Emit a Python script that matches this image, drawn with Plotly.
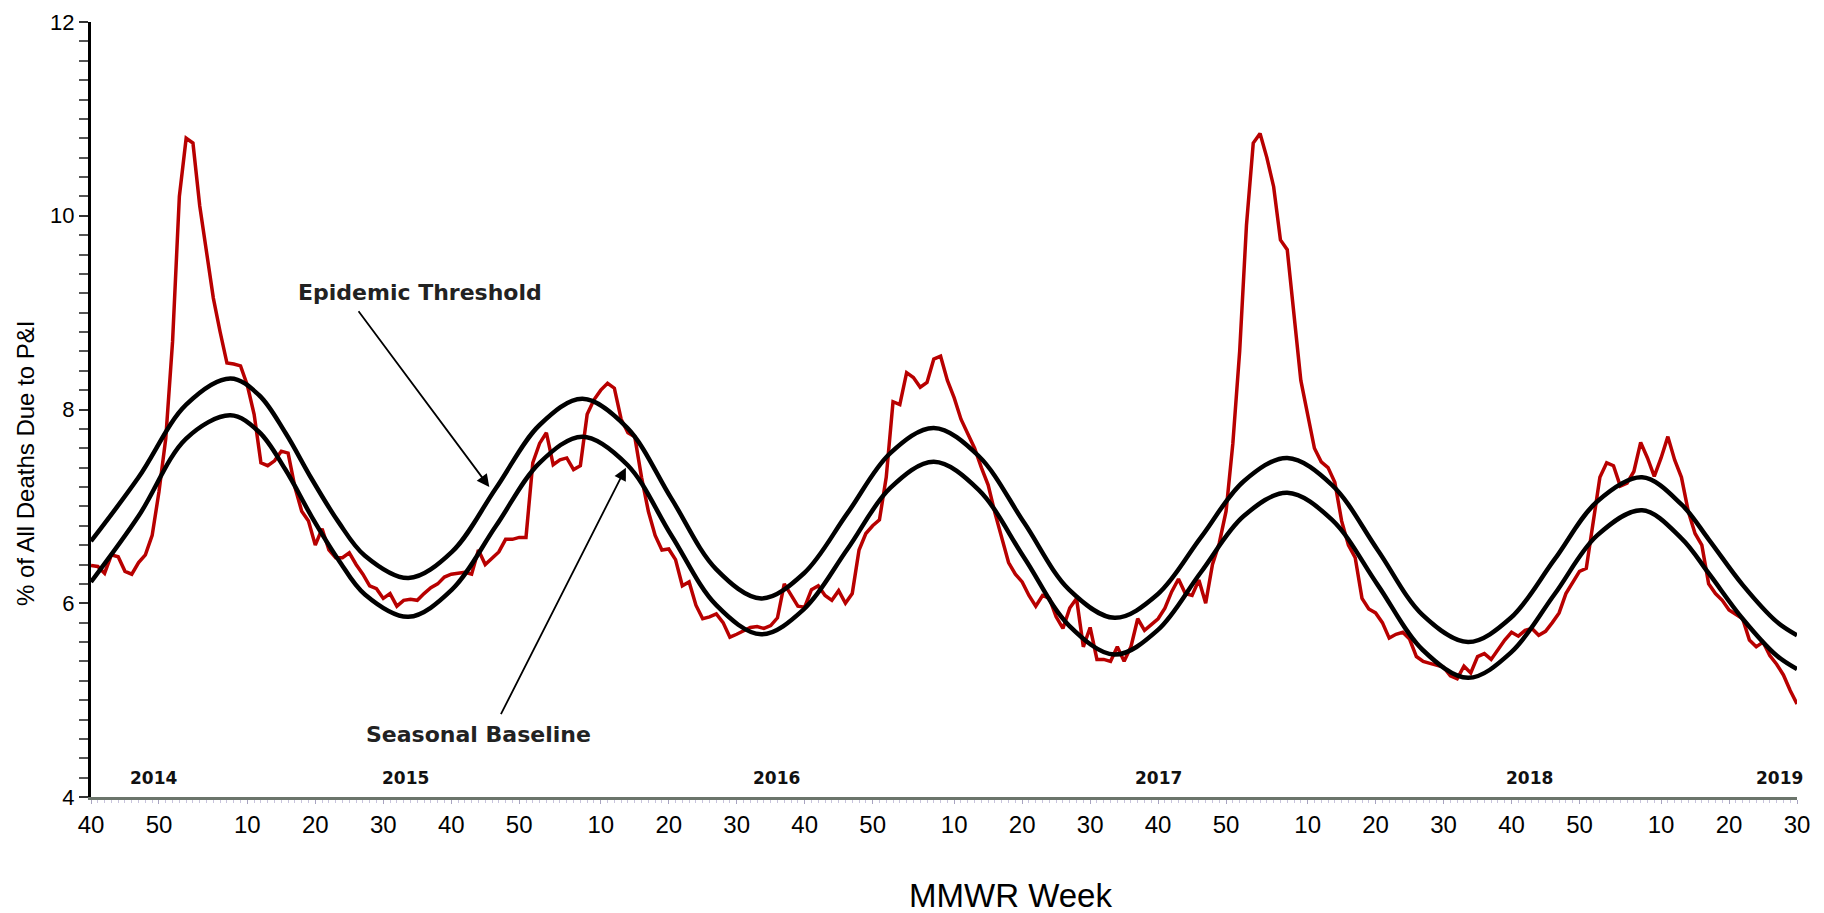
import plotly.graph_objects as go

# ---- data -------------------------------------------------------------
# weekly % of deaths due to P&I, MMWR 2014 week 40 ... 2019 week 30 (252 weeks)
pi_pct = [
    6.39, 6.38, 6.31, 6.50, 6.48, 6.33, 6.30, 6.42, 6.50, 6.70,
    7.15, 7.70, 8.70, 10.20, 10.80, 10.75, 10.10, 9.60, 9.15, 8.80,
    8.48, 8.47, 8.45, 8.25, 7.95, 7.45, 7.42, 7.47, 7.57, 7.55,
    7.20, 6.95, 6.85, 6.60, 6.77, 6.55, 6.47, 6.47, 6.52, 6.40,
    6.30, 6.18, 6.15, 6.05, 6.10, 5.97, 6.03, 6.04, 6.03, 6.10,
    6.16, 6.20, 6.27, 6.30, 6.31, 6.32, 6.30, 6.55, 6.40, 6.47,
    6.53, 6.66, 6.66, 6.68, 6.68, 7.45, 7.65, 7.76, 7.43, 7.48,
    7.50, 7.38, 7.42, 7.95, 8.10, 8.20, 8.27, 8.22, 7.90, 7.76,
    7.72, 7.30, 6.95, 6.70, 6.55, 6.56, 6.45, 6.18, 6.22, 5.98,
    5.84, 5.86, 5.89, 5.80, 5.65, 5.68, 5.72, 5.75, 5.76, 5.74,
    5.77, 5.85, 6.20, 6.08, 5.97, 5.96, 6.14, 6.18, 6.08, 6.03,
    6.13, 6.00, 6.10, 6.55, 6.72, 6.80, 6.86, 7.30, 8.08, 8.05,
    8.38, 8.33, 8.23, 8.28, 8.52, 8.55, 8.30, 8.12, 7.90, 7.75,
    7.60, 7.40, 7.22, 6.93, 6.66, 6.42, 6.30, 6.22, 6.08, 5.97,
    6.08, 6.05, 5.86, 5.74, 5.95, 6.05, 5.55, 5.75, 5.42, 5.42,
    5.40, 5.55, 5.40, 5.55, 5.84, 5.72, 5.78, 5.84, 5.95, 6.12,
    6.25, 6.10, 6.08, 6.24, 6.00, 6.40, 6.62, 6.95, 7.65, 8.60,
    9.90, 10.75, 10.85, 10.60, 10.30, 9.75, 9.65, 9.00, 8.30, 7.95,
    7.60, 7.46, 7.40, 7.25, 6.85, 6.60, 6.47, 6.05, 5.94, 5.90,
    5.80, 5.64, 5.68, 5.70, 5.63, 5.45, 5.40, 5.38, 5.36, 5.34,
    5.25, 5.22, 5.35, 5.28, 5.45, 5.48, 5.42, 5.52, 5.62, 5.70,
    5.66, 5.72, 5.74, 5.67, 5.71, 5.80, 5.90, 6.10, 6.22, 6.33,
    6.36, 6.85, 7.30, 7.45, 7.42, 7.21, 7.24, 7.36, 7.66, 7.50,
    7.31, 7.50, 7.72, 7.48, 7.30, 6.95, 6.72, 6.60, 6.20, 6.10,
    6.03, 5.93, 5.88, 5.84, 5.62, 5.55, 5.60, 5.46, 5.37, 5.26,
    5.10, 4.96,
]

# points (week index from 2014 wk 40)
curve_weeks = [
    0, 7, 14, 20.5, 24.7, 28.6, 32.5, 36.4, 40.3, 46.7,
    53.1, 59.6, 66.0, 72.3, 78.9, 85.4, 92.0, 98.6, 104.9, 111.3,
    117.6, 124.0, 130.6, 137.3, 143.9, 150.6, 156.9, 163.3, 169.6, 176.0,
    182.6, 189.3, 195.9, 202.6, 208.9, 215.3, 221.6, 228.2, 234.0, 238.0,
    243.0, 248.0, 251.0,
]
epidemic_threshold = [
    6.64, 7.30, 8.05, 8.32, 8.15, 7.76, 7.28, 6.84, 6.49, 6.26,
    6.53, 7.19, 7.84, 8.11, 7.81, 7.08, 6.35, 6.05, 6.31, 6.93,
    7.55, 7.81, 7.52, 6.83, 6.14, 5.85, 6.09, 6.68, 7.26, 7.50,
    7.22, 6.55, 5.88, 5.60, 5.85, 6.45, 7.05, 7.30, 7.02, 6.66,
    6.19, 5.81, 5.67,
]
seasonal_baseline = [
    6.22, 6.90, 7.70, 7.94, 7.77, 7.38, 6.89, 6.45, 6.09, 5.86,
    6.14, 6.80, 7.45, 7.72, 7.43, 6.70, 5.98, 5.68, 5.94, 6.56,
    7.19, 7.46, 7.17, 6.47, 5.77, 5.47, 5.72, 6.32, 6.90, 7.14,
    6.86, 6.19, 5.52, 5.23, 5.49, 6.09, 6.70, 6.96, 6.67, 6.31,
    5.84, 5.46, 5.32,
]

# x-axis tick labels (MMWR week) with their season year
tick_years = [2014, 2014,
              2015, 2015, 2015, 2015, 2015,
              2016, 2016, 2016, 2016, 2016,
              2017, 2017, 2017, 2017, 2017,
              2018, 2018, 2018, 2018, 2018,
              2019, 2019, 2019]
tick_weeks = [40, 50,
              10, 20, 30, 40, 50,
              10, 20, 30, 40, 50,
              10, 20, 30, 40, 50,
              10, 20, 30, 40, 50,
              10, 20, 30]
weeks_in_year = {2014: 53, 2015: 52, 2016: 52, 2017: 52, 2018: 52, 2019: 52}

year_labels = ["2014", "2015", "2016", "2017", "2018", "2019"]
year_label_pos = [9.2, 46.2, 100.9, 157.1, 211.6, 248.4]

# ---- helpers ----------------------------------------------------------
year_start = {}
acc = -(40 - 1)
for yr in sorted(weeks_in_year):
    year_start[yr] = acc
    acc += weeks_in_year[yr]
tick_pos = [year_start[y] + w - 1 for y, w in zip(tick_years, tick_weeks)]
tick_text = [str(w) for w in tick_weeks]
weeks = list(range(len(pi_pct)))

fig = go.Figure()
fig.add_trace(go.Scatter(x=weeks, y=pi_pct, mode="lines",
                         line=dict(color="#B80000", width=3.5),
                         hoverinfo="skip", showlegend=False))
fig.add_trace(go.Scatter(x=curve_weeks, y=epidemic_threshold, mode="lines",
                         line=dict(color="black", width=4.5, shape="spline", smoothing=1.0),
                         showlegend=False))
fig.add_trace(go.Scatter(x=curve_weeks, y=seasonal_baseline, mode="lines",
                         line=dict(color="black", width=4.5, shape="spline", smoothing=1.0),
                         showlegend=False))

ann = []
for t, p in zip(year_labels, year_label_pos):
    ann.append(dict(x=p, y=4.2, xref="x", yref="y", text="<b>%s</b>" % t, showarrow=False,
                    font=dict(family="DejaVu Sans", size=17, color="#111")))
# callouts
ann.append(dict(x=48.4, y=9.21, xref="x", yref="y", text="<b>Epidemic Threshold</b>",
                showarrow=False, font=dict(family="DejaVu Sans", size=22, color="#222")))
ann.append(dict(x=57.0, y=4.65, xref="x", yref="y", text="<b>Seasonal Baseline</b>",
                showarrow=False, font=dict(family="DejaVu Sans", size=22, color="#222")))
ann.append(dict(x=58.6, y=7.20, ax=39.2, ay=9.03, xref="x", yref="y",
                axref="x", ayref="y", text="", showarrow=True,
                arrowhead=2, arrowsize=1.4, arrowwidth=1.8, arrowcolor="black"))
ann.append(dict(x=78.7, y=7.40, ax=60.2, ay=4.84, xref="x", yref="y",
                axref="x", ayref="y", text="", showarrow=True,
                arrowhead=2, arrowsize=1.4, arrowwidth=1.8, arrowcolor="black"))
# axis titles
ann.append(dict(x=-0.0381, y=0.4297, xref="paper", yref="paper",
                text="% of All Deaths Due to P&I", textangle=-90, showarrow=False,
                xanchor="center", yanchor="middle",
                font=dict(family="Liberation Sans Narrow, Liberation Sans", size=24, color="black")))
ann.append(dict(x=0.5387, y=-0.127, xref="paper", yref="paper",
                text="MMWR Week", showarrow=False, xanchor="center", yanchor="middle",
                font=dict(family="Liberation Sans", size=33, color="black")))

# page body adds an 8px offset, so margins are shifted by 8px
fig.update_layout(
    width=1824, height=913,
    margin=dict(l=83, r=35, t=14, b=124, autoexpand=False),
    paper_bgcolor="white", plot_bgcolor="white",
    annotations=ann,
    xaxis=dict(range=[0, 251], tickmode="array", tickvals=tick_pos, ticktext=tick_text,
               automargin=False, ticklabeloverflow="allow",
               showgrid=False, zeroline=False, showline=True, linecolor="#6b756b",
               linewidth=3, ticks="outside", ticklen=4, tickcolor="#a8a4c0",
               tickfont=dict(family="Liberation Sans", size=24, color="black"),
               minor=dict(ticks="outside", dtick=1, tick0=0, ticklen=3,
                          tickcolor="#c8c4dc", tickwidth=1)),
    yaxis=dict(range=[4, 12], tickvals=[4, 6, 8, 10, 12], showgrid=False,
               automargin=False, ticklabeloverflow="allow",
               zeroline=False, showline=True, linecolor="black", linewidth=3,
               ticks="outside", ticklen=9, tickcolor="#333", tickwidth=2,
               tickfont=dict(family="Liberation Sans", size=22, color="black"),
               minor=dict(ticks="outside", dtick=0.2, ticklen=9,
                          tickcolor="#555", tickwidth=1.5)),
)

fig.write_html("out.html")
